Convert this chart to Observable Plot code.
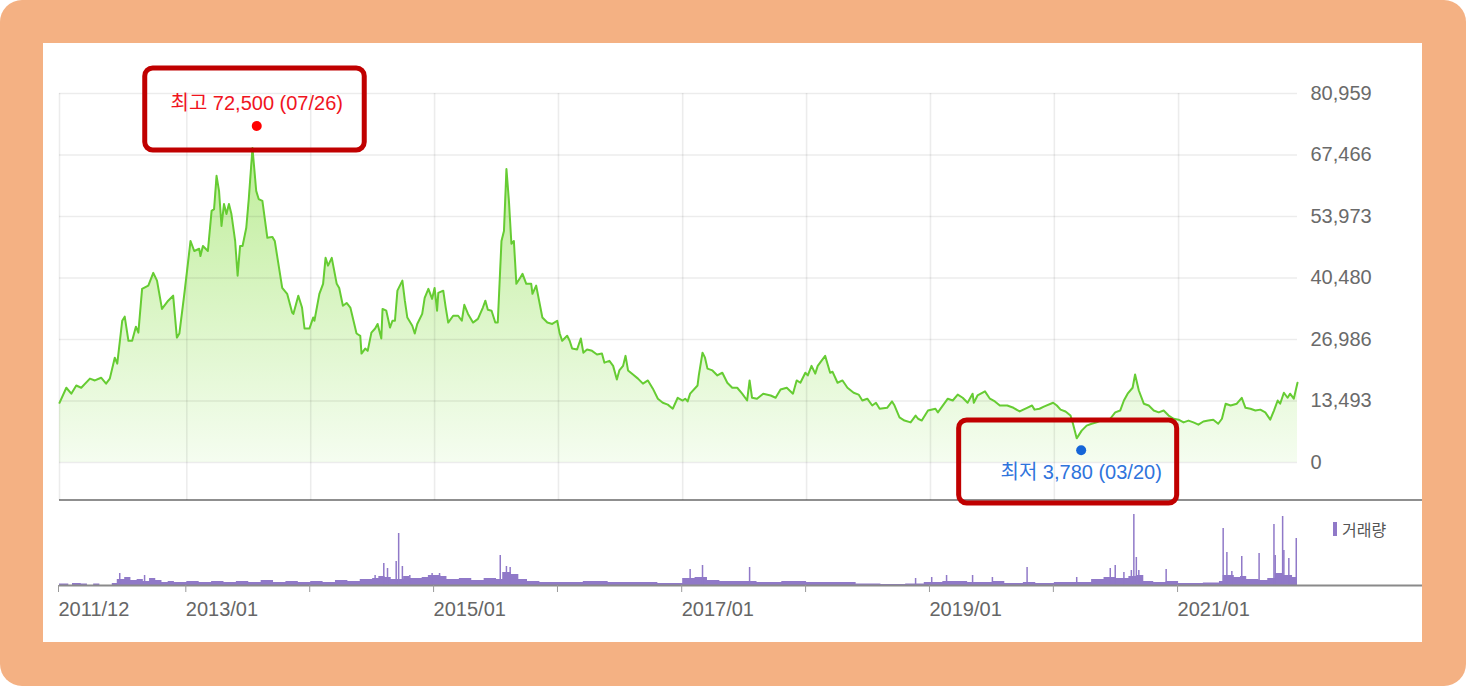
<!DOCTYPE html>
<html>
<head>
<meta charset="utf-8">
<script src="https://cdn.jsdelivr.net/npm/d3@7"></script>
<script src="https://cdn.jsdelivr.net/npm/@observablehq/plot@0.6"></script>
<style>
  html, body { margin: 0; padding: 0; background: #ffffff; }
  #frame { position: absolute; left: 0; top: 0; width: 1466px; height: 686px; background: #F4B183; border-radius: 22px; overflow: hidden; }
  #panel { position: absolute; left: 43px; top: 43px; width: 1379px; height: 599px; background: #ffffff; }
  #price { position: absolute; left: 0; top: 0; z-index: 3; }
  #vol { position: absolute; left: 0; top: 457px; z-index: 1; }
  #sep { position: absolute; left: 16px; top: 456px; width: 1363px; height: 0; border-top: 2px solid #8f8f8f; z-index: 2; }
  #legend { position: absolute; left: 1290px; top: 474px; font: 16px "Liberation Sans", "Noto Sans CJK KR", sans-serif; color: #555; display: flex; align-items: center; gap: 5px; z-index: 2; }
  #legend .sw { display: inline-block; width: 4px; height: 14px; background: #9079c8; }
  svg { overflow: visible; }
</style>
</head>
<body>
<div id="frame">
  <div id="panel">
    <div id="price"></div>
    <div id="sep"></div>
    <div id="vol"></div>
    <div id="legend"><span class="sw"></span><span>거래량</span></div>
  </div>
</div>
<script>
// ---------- data (decimal years) ----------
const priceYears = [2011.975,2012.03,2012.07,2012.11,2012.15,2012.22,2012.26,2012.31,2012.35,2012.38,2012.42,2012.44,2012.48,2012.50,2012.53,2012.56,2012.59,2012.61,2012.64,2012.69,2012.73,2012.76,2012.80,2012.85,2012.89,2012.92,2012.94,2012.98,
2013.03,2013.06,2013.10,2013.11,2013.13,2013.17,2013.20,2013.22,2013.24,2013.26,2013.28,2013.30,2013.32,2013.34,2013.36,2013.39,2013.41,2013.43,2013.45,2013.48,2013.50,2013.53,2013.56,2013.58,2013.61,2013.65,2013.69,2013.71,2013.77,2013.81,2013.85,2013.86,2013.90,2013.93,2013.95,2013.99,
2014.02,2014.03,2014.07,2014.10,2014.12,2014.14,2014.17,2014.21,2014.23,2014.26,2014.29,2014.32,2014.37,2014.40,2014.41,2014.44,2014.46,2014.49,2014.52,2014.54,2014.57,2014.58,2014.61,2014.64,2014.66,2014.68,2014.70,2014.74,2014.76,2014.78,2014.82,2014.84,2014.86,2014.90,2014.92,2014.95,2014.98,
2015.00,2015.02,2015.03,2015.07,2015.09,2015.11,2015.15,2015.19,2015.22,2015.24,2015.27,2015.31,2015.35,2015.39,2015.41,2015.43,2015.46,2015.49,2015.51,2015.54,2015.56,2015.58,2015.60,2015.62,2015.64,2015.66,2015.69,2015.71,2015.74,2015.78,2015.79,2015.82,2015.87,2015.91,2015.95,2015.99,
2016.01,2016.03,2016.07,2016.09,2016.11,2016.15,2016.18,2016.20,2016.23,2016.27,2016.31,2016.35,2016.37,2016.41,2016.44,2016.47,2016.49,2016.52,2016.54,2016.56,2016.60,2016.64,2016.68,2016.72,2016.76,2016.80,2016.84,2016.88,2016.92,2016.96,
2017.00,2017.02,2017.04,2017.06,2017.12,2017.13,2017.16,2017.18,2017.20,2017.24,2017.28,2017.32,2017.36,2017.40,2017.44,2017.48,2017.52,2017.54,2017.56,2017.60,2017.65,2017.71,2017.75,2017.79,2017.84,2017.89,2017.92,2017.95,2017.99,
2018.01,2018.04,2018.07,2018.09,2018.15,2018.19,2018.21,2018.25,2018.29,2018.33,2018.38,2018.42,2018.45,2018.49,2018.53,2018.56,2018.59,2018.65,2018.69,2018.71,2018.75,2018.79,2018.84,2018.88,2018.90,2018.93,2018.98,
2019.04,2019.06,2019.14,2019.18,2019.22,2019.26,2019.30,2019.34,2019.35,2019.38,2019.44,2019.48,2019.52,2019.56,2019.62,2019.67,2019.72,2019.78,2019.82,2019.84,2019.88,2019.92,2019.99,
2020.02,2020.05,2020.09,2020.13,2020.15,2020.18,2020.22,2020.26,2020.30,2020.34,2020.39,2020.45,2020.49,2020.53,2020.56,2020.59,2020.63,2020.65,2020.68,2020.72,2020.76,2020.80,2020.84,2020.88,2020.92,2020.96,
2021.00,2021.04,2021.08,2021.12,2021.16,2021.20,2021.24,2021.28,2021.32,2021.35,2021.38,2021.42,2021.47,2021.51,2021.54,2021.58,2021.62,2021.66,2021.70,2021.74,2021.77,2021.80,2021.82,2021.85,2021.88,2021.90,2021.93,2021.96];
const priceValues = [13100,16400,15100,16900,16400,18400,18000,18600,17300,18400,23000,21700,31100,32000,26700,26700,29800,28500,38100,38800,41600,39900,33700,35500,36600,27400,28300,37000,
48600,46400,46900,45300,47500,46400,55200,55600,62900,59600,51900,56700,54500,56700,54500,48600,41000,47500,47500,51500,57800,69000,59600,57800,57400,49300,49500,48600,38300,37000,32900,32600,36600,34000,29400,29400,
31800,31100,37000,39200,44900,43200,44900,39200,38300,34400,35000,34000,28300,27800,23900,25000,24500,28500,29400,30400,27200,33700,33300,29600,31100,31100,37700,39900,35500,31800,30000,28300,30400,32600,36100,38100,35900,
38300,33300,37200,37700,34000,30700,32200,32200,31100,34600,32600,30700,31500,34000,35500,33500,33300,30700,30700,48600,50800,64400,57400,48000,48600,39200,40500,41400,39200,39200,37000,38800,31800,30700,30400,31100,
28300,26700,27800,26700,25000,24800,27200,24100,24800,24500,23700,23900,21900,22300,21200,18200,20200,21200,23400,20200,19300,18400,17300,18000,16200,14000,13100,12700,11800,14200,
13600,14000,13400,15100,16900,19100,24100,23000,20600,20200,19100,19700,17500,16400,16400,15100,13600,18000,14200,14000,15100,14700,14200,16000,16400,15100,18000,17500,19700,
19100,21200,19500,21200,23400,19700,19900,17500,18000,16400,15300,14900,13600,14000,12500,13100,11800,12000,13400,12500,9900,9200,8800,10300,9600,9200,11400,
11800,11000,14000,13600,14900,14200,13100,15100,13100,14700,15600,14000,13400,12500,12500,12000,11200,12000,12500,11600,11800,12300,13100,
12500,11600,11200,10300,8500,5300,7000,8100,8500,8800,9400,9600,11000,11400,13600,15100,16400,19300,15800,12900,12500,11400,11000,11400,10300,9600,
9400,8800,9200,8800,8300,9000,9200,9400,8500,9600,12900,12500,12900,14200,12000,11800,11400,11600,11000,9400,11400,13600,12900,15300,14200,15100,14000,17500];

// daily-volume background level (step) and individual volume spikes, in 10k shares
const volBaseYears = [2011.975,2012.05,2012.08,2012.15,2012.2,2012.25,2012.3,2012.4,2012.44,2012.5,2012.55,2012.6,2012.65,2012.7,2012.75,2012.8,2012.85,2012.9,2013.0,2013.1,2013.2,2013.3,2013.4,2013.5,2013.6,2013.7,2013.8,2013.9,2014.0,2014.1,2014.2,2014.3,2014.4,2014.5,2014.55,2014.6,2014.65,2014.75,2014.8,2014.9,2014.95,2015.05,2015.1,2015.2,2015.3,2015.4,2015.5,2015.55,2015.62,2015.68,2015.75,2015.85,2016.0,2016.2,2016.4,2016.6,2016.8,2017.0,2017.1,2017.2,2017.3,2017.5,2017.6,2017.8,2018.0,2018.2,2018.4,2018.6,2018.8,2018.95,2019.1,2019.3,2019.5,2019.6,2019.75,2019.85,2020.0,2020.2,2020.3,2020.4,2020.5,2020.6,2020.66,2020.72,2020.8,2020.9,2021.0,2021.2,2021.33,2021.36,2021.45,2021.5,2021.55,2021.65,2021.72,2021.78,2021.85,2021.92,2021.96];
const volBaseValues = [1.5,0,2,1.5,0,1.5,0,2,6,8,5,6,4,7,5,3,4,3,4,3,4,3,4,3,5,3,4,3,4,3,5,4,6,7,9,8,6,9,7,8,10,9,6,7,5,7,6,13,11,6,4,3,3,4,3,3,2,7,8,5,4,4,3,4,3,3,1.5,1,1.5,3,4,3,4,2,3,2,3,3,6,8,7,9,10,4,3,4,2,2.5,4,10,8,9,6,5,7,12,10,8,8];
const volSpikeYears = [2012.46,2012.66,2014.52,2014.59,2014.62,2014.69,2014.71,2014.74,2014.80,2014.98,2015.04,2015.53,2015.58,2015.61,2017.06,2017.16,2017.54,2018.88,2019.01,2019.13,2019.34,2019.50,2019.78,2020.18,2020.45,2020.49,2020.56,2020.62,2020.64,2020.66,2020.68,2020.90,2021.36,2021.39,2021.43,2021.51,2021.65,2021.77,2021.78,2021.84,2021.85,2021.89,2021.95];
const volSpikeValues = [12,10,10,22,17,24,52,19,10,12,12,30,19,18,16,20,18,7,8,10,10,8,18,8,17,20,13,15,71,28,15,16,57,33,14,29,32,61,30,69,35,27,47];

// axis ticks
const yTicks = [0, 13493, 26986, 40480, 53973, 67466, 80959];
const xTickYears = [2011.975, 2013, 2014, 2015, 2016, 2017, 2018, 2019, 2020, 2021];
const xTickLabels = ["2011/12", "2013/01", "", "2015/01", "", "2017/01", "", "2019/01", "", "2021/01"];
const xDomainYears = [2011.975, 2021.96];

// extremes
const extremeLabels = ["최고 72,500 (07/26)", "최저 3,780 (03/20)"];
const extremeDates = ["2013-07-26", "2020-03-20"];
const extremeValues = [72500, 3780];

// ---------- helpers ----------
function toDate(y) {
  const yr = Math.floor(y);
  const a = Date.UTC(yr, 0, 1), b = Date.UTC(yr + 1, 0, 1);
  return new Date(a + (y - yr) * (b - a));
}
const price = priceYears.map((y, i) => ({date: toDate(y), value: priceValues[i]}));
const volBase = volBaseYears.map((y, i) => ({date: toDate(y), value: volBaseValues[i]}));
const volSpikes = volSpikeYears.map((y, i) => ({date: toDate(y), value: volSpikeValues[i]}));
const xTicks = xTickYears.map(toDate);
const labelOf = new Map(xTicks.map((d, i) => [+d, xTickLabels[i]]));
const xDomain = xDomainYears.map(toDate);
const high = [{date: new Date(extremeDates[0]), value: extremeValues[0], label: extremeLabels[0]}];
const low = [{date: new Date(extremeDates[1]), value: extremeValues[1], label: extremeLabels[1]}];

const FONT = '"Liberation Sans", "Noto Sans CJK KR", sans-serif';
const GREEN = "#66cc33";
const PURPLE = "#9079c8";

// ---------- price chart ----------
const pricePlot = Plot.plot({
  width: 1379,
  height: 460,
  marginLeft: 16,
  marginRight: 125,
  marginTop: 50,
  marginBottom: 3,
  style: {fontFamily: FONT, fontSize: "20px", background: "transparent", overflow: "visible"},
  x: {type: "utc", domain: xDomain, axis: null},
  y: {domain: [0, 80959], range: [419, 50], label: null},
  marks: [
    Plot.areaY(price, {x: "date", y: "value", fill: "url(#priceFill)"}),
    Plot.ruleY(yTicks, {stroke: "#000", strokeOpacity: 0.075, strokeWidth: 1.6}),
    Plot.ruleX(xTicks, {stroke: "#000", strokeOpacity: 0.075, strokeWidth: 1.6}),
    Plot.lineY(price, {x: "date", y: "value", stroke: GREEN, strokeWidth: 2}),
    Plot.axisY(yTicks, {anchor: "right", label: null, tickSize: 0, tickPadding: 13, tickFormat: d3.format(","), fill: "#6a6a6a"}),
    Plot.dot(high, {x: "date", y: "value", r: 5, fill: "#ff0000", dy: -6}),
    Plot.dot(low, {x: "date", y: "value", r: 5, fill: "#1565d8", dy: 5}),
    Plot.text(high, {x: "date", y: "value", text: "label", dy: -28, fill: "#f0141e", fontSize: 20, style: "letter-spacing:1.8px"}),
    Plot.text(low, {x: "date", y: "value", text: "label", dy: 27, fill: "#2f74dc", fontSize: 20, style: "letter-spacing:1.8px"}),
    Plot.rect(high, {x1: "date", x2: "date", y1: "value", y2: "value",
      insetLeft: -111.5, insetRight: -108, insetTop: -63.6, insetBottom: -18.4,
      rx: 8, fill: "none", stroke: "#c00000", strokeWidth: 5}),
    Plot.rect(low, {x1: "date", x2: "date", y1: "value", y2: "value",
      insetLeft: -122, insetRight: -96, insetTop: -24.8, insetBottom: -58.2,
      rx: 8, fill: "none", stroke: "#c00000", strokeWidth: 5})
  ]
});
{
  const [y0, y1] = pricePlot.scale("y").range;
  pricePlot.insertAdjacentHTML("afterbegin",
    `<defs><linearGradient id="priceFill" gradientUnits="userSpaceOnUse" x1="0" y1="${y1}" x2="0" y2="${y0}">
      <stop offset="0" stop-color="#b5ea8a"/><stop offset="1" stop-color="#f5fdf0"/></linearGradient></defs>`);
}
document.getElementById("price").appendChild(pricePlot);

// ---------- volume chart ----------
const volPlot = Plot.plot({
  width: 1379,
  height: 142,
  marginLeft: 16,
  marginRight: 0,
  marginTop: 5,
  marginBottom: 57,
  style: {fontFamily: FONT, fontSize: "20px", background: "transparent", overflow: "visible"},
  x: {type: "utc", domain: xDomain, range: [16, 1254]},
  y: {domain: [0, 80], range: [85, 5], axis: null},
  marks: [
    Plot.areaY(volBase, {x: "date", y: "value", curve: "step-after", fill: PURPLE}),
    Plot.ruleX(volSpikes, {x: "date", y1: 0, y2: "value", stroke: PURPLE, strokeWidth: 1.5}),
    Plot.ruleY([0], {stroke: "#8a8a8a", strokeWidth: 2}),
    Plot.axisX(xTicks, {tickSize: 7, tickPadding: 9, stroke: "#9a9a9a", fill: "#666", label: null,
      tickFormat: d => labelOf.get(+d), textAnchor: "start", dx: -1})
  ]
});
document.getElementById("vol").appendChild(volPlot);
</script>
</body>
</html>
